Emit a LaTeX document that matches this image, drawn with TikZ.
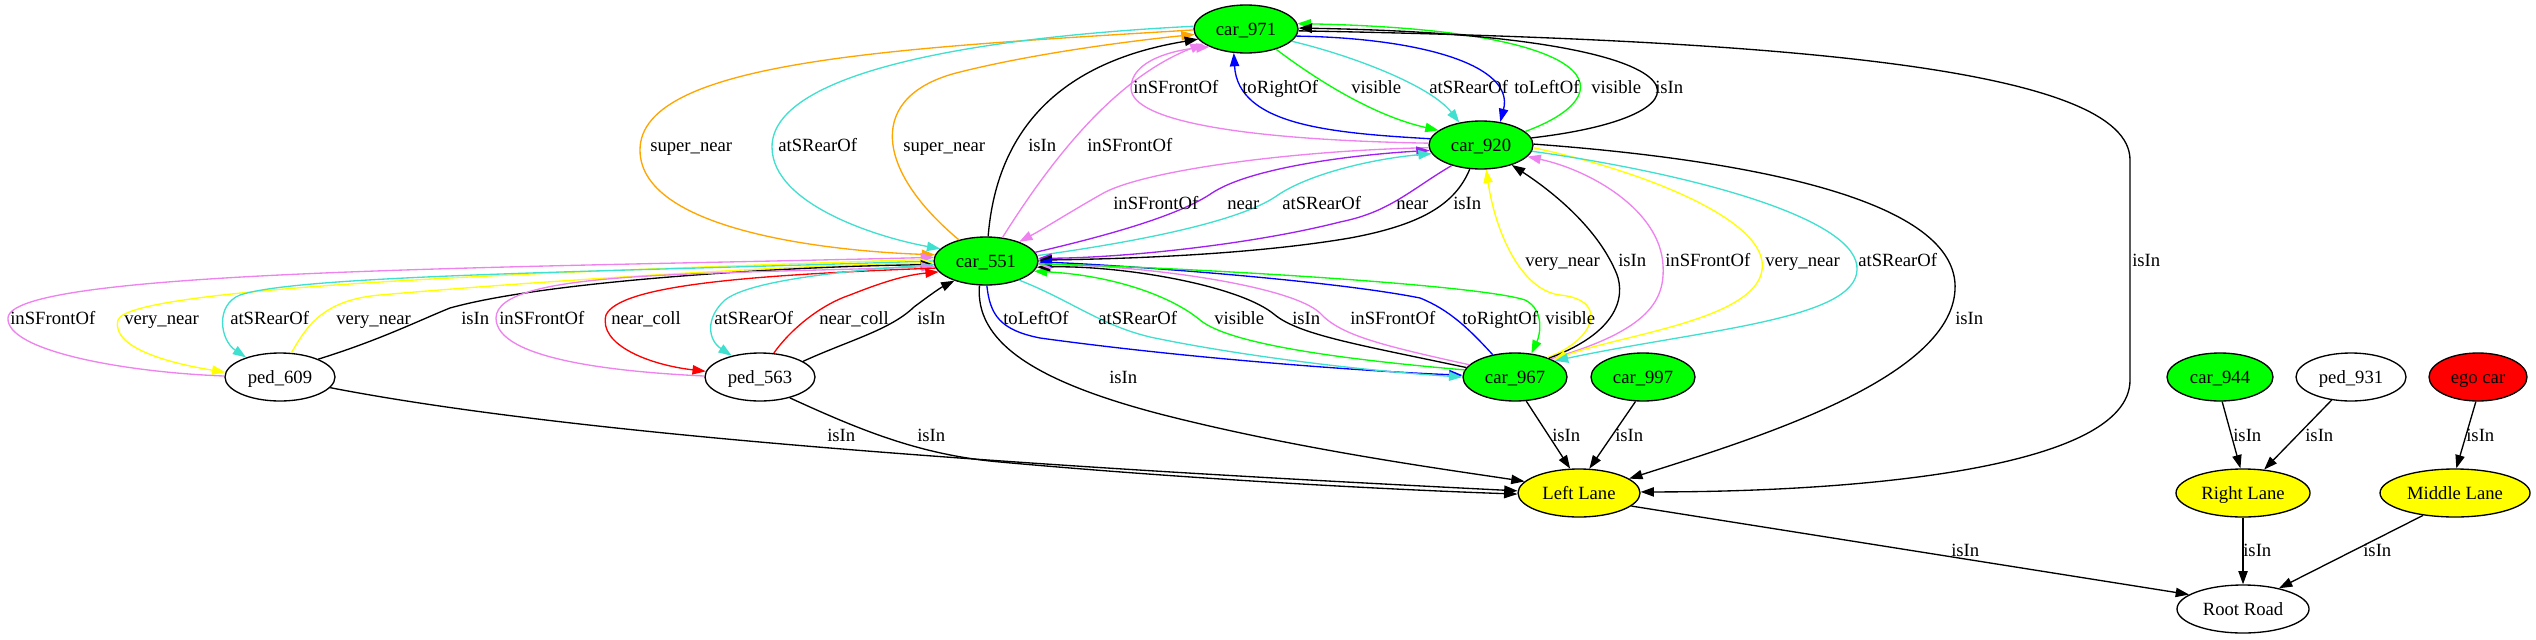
\documentclass[tikz,border=0pt]{standalone}
\usepackage{fontspec}
\setmainfont{Liberation Serif}
\usetikzlibrary{shapes.geometric,arrows.meta}
\definecolor{gvgreen}{HTML}{00FF00}
\definecolor{gvyellow}{HTML}{FFFF00}
\definecolor{gvred}{HTML}{FF0000}
\definecolor{gvorange}{HTML}{FFA500}
\definecolor{gvturq}{HTML}{40E0D0}
\definecolor{gvviolet}{HTML}{EE82EE}
\definecolor{gvpurple}{HTML}{A020F0}
\definecolor{gvblue}{HTML}{0000FF}
\tikzset{
  gvnode/.style={ellipse, draw=black, line width=1pt, inner sep=0pt,
    minimum height=36pt, text height=9pt, text depth=0pt,
    font=\fontsize{14pt}{16pt}\selectfont},
  carnode/.style={gvnode, fill=gvgreen, minimum width=78pt},
  pednode/.style={gvnode, fill=white, minimum width=82.5pt},
  lanenode/.style={gvnode, fill=gvyellow},
  e/.style={line width=1pt, -{Triangle[length=10pt,width=7pt]}},
  eb/.style={line width=1pt, {Triangle[length=10pt,width=7pt]}-},
  lab/.style={anchor=west, inner sep=0pt, text height=9pt, text depth=0pt,
    font=\fontsize{14pt}{16pt}\selectfont}
}
\begin{document}
\begin{tikzpicture}[x=0.75pt,y=-0.75pt]
\path[use as bounding box] (0,0) rectangle (2536,639);
% nodes
\node[carnode] (c971) at (1246,29) {car\_971};
\node[carnode] (c920) at (1481,145) {car\_920};
\node[carnode] (c551) at (986,261) {car\_551};
\node[pednode] (p609) at (280,377) {ped\_609};
\node[pednode] (p563) at (760,377) {ped\_563};
\node[carnode] (c967) at (1515,377) {car\_967};
\node[carnode] (c997) at (1643,377) {car\_997};
\node[carnode, minimum width=79.5pt] (c944) at (2220,377) {car\_944};
\node[pednode] (p931) at (2351,377) {ped\_931};
\node[gvnode, fill=gvred, minimum width=73.5pt] (ego) at (2478,377) {ego car};
\node[lanenode, minimum width=91.5pt] (LL) at (1579,493) {Left Lane};
\node[lanenode, minimum width=100.5pt] (RL) at (2243,493) {Right Lane};
\node[lanenode, minimum width=112.5pt] (ML) at (2455,493) {Middle Lane};
\node[gvnode, fill=white, minimum width=99pt] (RR) at (2243,609) {Root Road};
% edges around car_971
\draw[e,gvorange] (c971.181) .. controls (900,48) and (640,60) .. (640,150) .. controls (640,235) and (850,252) .. (c551.173);
\draw[e,gvturq] (c971.177) .. controls (960,38) and (772,75) .. (772,147) .. controls (772,205) and (880,238) .. (c551.165);
\draw[e,gvorange] (c551.142) .. controls (875,170) and (865,95) .. (960,72) .. controls (1040,52) and (1140,40) .. (c971.186);
\draw[e] (c551.85) .. controls (995,150) and (1040,65) .. (c971.192);
\draw[e,gvviolet] (c551.55) .. controls (1045,170) and (1110,80) .. (c971.199);
\draw[e,gvviolet] (c920.178) .. controls (1250,140) and (1131,122) .. (1131,88) .. controls (1131,60) and (1175,50) .. (c971.206);
\draw[e,gvblue] (c920.173) .. controls (1330,133) and (1238,125) .. (c971.243);
\draw[e,gvgreen] (c971.326) .. controls (1310,75) and (1370,115) .. (c920.161);
\draw[e,gvturq] (c971.345) .. controls (1350,55) and (1430,85) .. (c920.134);
\draw[e,gvblue] (c971.352) .. controls (1420,38) and (1515,65) .. (c920.50);
\draw[e,gvgreen] (c920.17) .. controls (1625,95) and (1610,30) .. (c971.6);
\draw[e] (c920.8) .. controls (1730,115) and (1720,35) .. (c971.1);
\draw[e] (c971.358) .. controls (1800,40) and (2130,70) .. (2130,160) -- (2130,380) .. controls (2130,470) and (1850,492) .. (LL.1);
% car_920 <-> car_551
\draw[e,gvviolet] (c920.183) .. controls (1300,150) and (1140,170) .. (1100,195) .. controls (1070,212) and (1045,228) .. (c551.30);
\draw[e,gvpurple] (c551.10) .. controls (1110,235) and (1180,215) .. (1212,193) .. controls (1250,168) and (1350,155) .. (c920.186);
\draw[e,gvturq] (c551.6) .. controls (1150,240) and (1240,220) .. (1275,197) .. controls (1310,172) and (1380,158) .. (c920.190);
\draw[e,gvpurple] (c920.215) .. controls (1410,190) and (1390,212) .. (1340,222) .. controls (1250,245) and (1120,258) .. (c551.3);
\draw[e] (c920.245) .. controls (1455,205) and (1420,225) .. (1350,238) .. controls (1250,255) and (1120,259) .. (c551.1);
% car_551 <-> car_967
\draw[e,gvblue] (c551.272) .. controls (990,315) and (1000,330) .. (1040,338) .. controls (1200,360) and (1380,372) .. (c967.178);
\draw[e,gvturq] (c551.330) .. controls (1070,300) and (1100,325) .. (1150,337) .. controls (1250,358) and (1380,372) .. (c967.180);
\draw[e,gvgreen] (c967.172) .. controls (1350,360) and (1230,345) .. (1200,320) .. controls (1170,295) and (1110,275) .. (c551.348);
\draw[e] (c967.169) .. controls (1360,345) and (1300,335) .. (1275,315) .. controls (1240,285) and (1120,265) .. (c551.353);
\draw[e,gvviolet] (c967.165) .. controls (1380,345) and (1340,335) .. (1320,313) .. controls (1290,285) and (1140,265) .. (c551.356);
\draw[e,gvblue] (c967.135) .. controls (1470,330) and (1450,310) .. (1420,298) .. controls (1330,280) and (1120,265) .. (c551.359);
\draw[e,gvgreen] (c551.357) .. controls (1200,268) and (1480,285) .. (1525,300) .. controls (1545,310) and (1540,335) .. (c967.55);
\draw[e] (c551.255) .. controls (975,340) and (1030,380) .. (1160,414) .. controls (1300,450) and (1450,470) .. (LL.168);
% car_551 <-> pedestrians
\draw[e,gvyellow] (c551.178) .. controls (600,270) and (130,285) .. (118,320) .. controls (110,350) and (180,365) .. (p609.175);
\draw[eb,gvviolet] (c551.176) .. controls (500,268) and (10,270) .. (8,318) .. controls (6,350) and (120,372) .. (p609.179);
\draw[e,gvturq] (c551.180) .. controls (600,272) and (300,275) .. (240,295) .. controls (215,305) and (220,340) .. (p609.150);
\draw[e,gvyellow] (p609.65) .. controls (305,330) and (320,300) .. (380,295) .. controls (550,280) and (800,265) .. (c551.182);
\draw[e] (p609.25) .. controls (380,340) and (420,320) .. (450,308) .. controls (550,280) and (800,266) .. (c551.184);
\draw[eb,gvviolet] (c551.186) .. controls (700,275) and (497,270) .. (496,318) .. controls (496,360) and (620,372) .. (p563.179);
\draw[e,gvred] (c551.188) .. controls (750,275) and (620,285) .. (606,315) .. controls (598,345) and (650,365) .. (p563.174);
\draw[e,gvturq] (c551.184) .. controls (850,270) and (750,280) .. (725,300) .. controls (705,318) and (708,340) .. (p563.143);
\draw[e,gvred] (p563.60) .. controls (790,330) and (820,305) .. (850,295) .. controls (880,283) and (905,275) .. (c551.193);
\draw[e] (p563.20) .. controls (850,340) and (890,330) .. (914,307) .. controls (930,295) and (940,288) .. (c551.212);
\draw[e] (p609.348) .. controls (600,440) and (1100,470) .. (LL.178);
\draw[e] (p563.325) .. controls (860,430) and (920,455) .. (1000,462) .. controls (1200,480) and (1400,490) .. (LL.181);
% lanes
\draw[e] (c967.295) -- (LL.110);
\draw[e] (c997.253) -- (LL.67);
\draw[e] (c920.1) .. controls (1750,160) and (1960,200) .. (1955,290) .. controls (1950,380) and (1750,440) .. (LL.16);
% car_967 <-> car_920
\draw[e,gvyellow] (c967.31) .. controls (1595,340) and (1610,300) .. (1560,295) .. controls (1520,290) and (1495,230) .. (c920.282);
\draw[e] (c967.29) .. controls (1625,330) and (1625,290) .. (1615,270) .. controls (1595,225) and (1550,190) .. (c920.327);
\draw[e,gvviolet] (c967.27) .. controls (1650,330) and (1665,300) .. (1663,265) .. controls (1660,210) and (1590,170) .. (c920.346);
\draw[e,gvyellow] (c920.357) .. controls (1640,170) and (1770,220) .. (1762,270) .. controls (1755,320) and (1620,335) .. (c967.24);
\draw[e,gvturq] (c920.353) .. controls (1700,175) and (1860,220) .. (1857,270) .. controls (1855,320) and (1700,330) .. (c967.22);
\draw[e] (c944.275) -- (RL.96);
\draw[e] (p931.230) -- (RL.48);
\draw[e] (ego.265) -- (ML.87);
\draw[e] (LL.346) -- (RR.165);
\draw[e] (RL.270) -- (RR.90);
\draw[e] (ML.215) -- (RR.30);
% labels row 87
\node[lab] (l1) at (1133,87) {inSFrontOf};
\node[lab] (l2) at (1242,87) {toRightOf};
\node[lab] (l3) at (1351,87) {visible};
\node[lab] (l4) at (1429,87) {atSRearOf};
\node[lab] (l5) at (1514,87) {toLeftOf};
\node[lab] (l6) at (1591,87) {visible};
\node[lab] (l7) at (1655,87) {isIn};
% row 145
\node[lab] (l8) at (650,145) {super\_near};
\node[lab] (l9) at (778,145) {atSRearOf};
\node[lab] (l10) at (903,145) {super\_near};
\node[lab] (l11) at (1028,145) {isIn};
\node[lab] (l12) at (1087,145) {inSFrontOf};
% row 203
\node[lab] (l13) at (1113,203) {inSFrontOf};
\node[lab] (l14) at (1227,203) {near};
\node[lab] (l15) at (1282,203) {atSRearOf};
\node[lab] (l16) at (1396,203) {near};
\node[lab] (l17) at (1453,203) {isIn};
% row 260
\node[lab] (l18) at (1525,260) {very\_near};
\node[lab] (l19) at (1618,260) {isIn};
\node[lab] (l20) at (1665,260) {inSFrontOf};
\node[lab] (l21) at (1765,260) {very\_near};
\node[lab] (l22) at (1858,260) {atSRearOf};
\node[lab] (l23) at (2132,260) {isIn};
% row 318
\node[lab] (l24) at (10,318) {inSFrontOf};
\node[lab] (l25) at (124,318) {very\_near};
\node[lab] (l26) at (230,318) {atSRearOf};
\node[lab] (l27) at (336,318) {very\_near};
\node[lab] (l28) at (461,318) {isIn};
\node[lab] (l29) at (499,318) {inSFrontOf};
\node[lab] (l30) at (611,318) {near\_coll};
\node[lab] (l31) at (714,318) {atSRearOf};
\node[lab] (l32) at (819,318) {near\_coll};
\node[lab] (l33) at (917,318) {isIn};
\node[lab] (l34) at (1003,318) {toLeftOf};
\node[lab] (l35) at (1098,318) {atSRearOf};
\node[lab] (l36) at (1214,318) {visible};
\node[lab] (l37) at (1292,318) {isIn};
\node[lab] (l38) at (1350,318) {inSFrontOf};
\node[lab] (l39) at (1462,318) {toRightOf};
\node[lab] (l40) at (1545,318) {visible};
\node[lab] (l41) at (1955,318) {isIn};
% row 377
\node[lab] (l42) at (1109,377) {isIn};
% row 435
\node[lab] (l43) at (827,435) {isIn};
\node[lab] (l44) at (917,435) {isIn};
\node[lab] (l45) at (1552,435) {isIn};
\node[lab] (l46) at (1615,435) {isIn};
\node[lab] (l47) at (2233,435) {isIn};
\node[lab] (l48) at (2305,435) {isIn};
\node[lab] (l49) at (2466,435) {isIn};
% row 550
\node[lab] (l50) at (1951,550) {isIn};
\node[lab] (l51) at (2243,550) {isIn};
\node[lab] (l52) at (2363,550) {isIn};
\end{tikzpicture}
\end{document}
